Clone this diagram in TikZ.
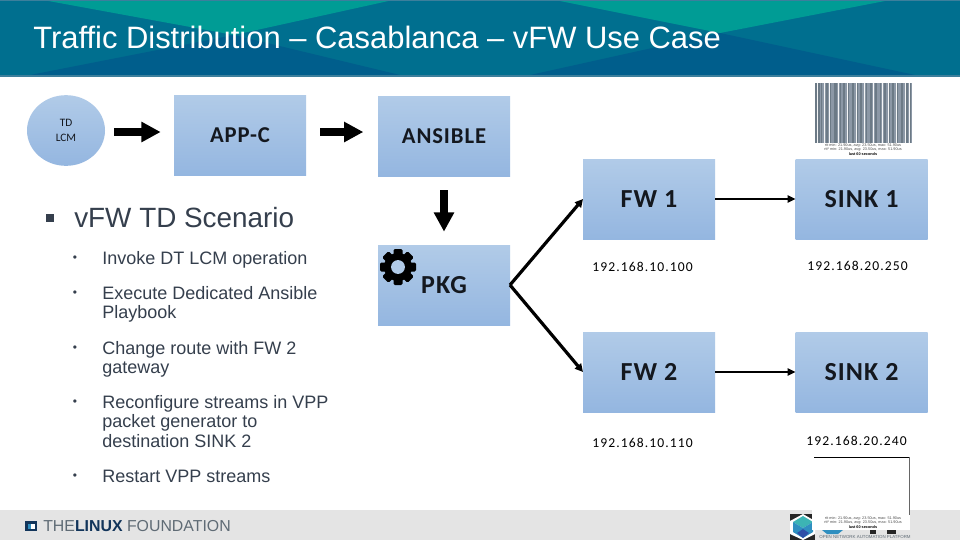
\documentclass[tikz,border=0pt]{standalone}
\usepackage{fontspec}
\setmainfont{Liberation Sans}
\newfontfamily\boxfont[LetterSpace=4]{Carlito}
\newfontfamily\ipfont[LetterSpace=8]{Carlito}
\newfontfamily\tdfont{Carlito}
\usetikzlibrary{arrows.meta,calc,shapes.geometric}
\definecolor{boxtop}{HTML}{B1CBE8}
\definecolor{boxbot}{HTML}{94B6E0}
\definecolor{ink}{HTML}{14181F}
\definecolor{slate}{HTML}{353F4D}
\definecolor{hdbase}{HTML}{006F8F}
\definecolor{hdteal}{HTML}{009C95}
\definecolor{hddark}{HTML}{005E8C}
\definecolor{hdedge}{HTML}{3C7F9C}
\definecolor{footgrey}{HTML}{E4E4E4}
\definecolor{lfnavy}{HTML}{12355B}
\definecolor{lfgrey}{HTML}{5F6B75}
\definecolor{barbase}{HTML}{8C98A6}
\definecolor{bardark}{HTML}{6C7A86}
\definecolor{onapa}{HTML}{3CB4B4}
\definecolor{onapb}{HTML}{2F8FC0}
\definecolor{onapc}{HTML}{2E4FA8}
\tikzset{
  x=0.75pt,y=-0.75pt,
  block/.style={rectangle,inner sep=0,outer sep=0,minimum width=99pt,minimum height=60pt,top color=boxtop,bottom color=boxbot,text=ink,font=\boxfont\fontsize{17}{20}\selectfont\bfseries},
  bigblock/.style={block,font=\boxfont\fontsize{19.5}{22}\selectfont\bfseries},
  ip/.style={font=\ipfont\fontsize{10.2}{12}\selectfont,text=black,inner sep=0},
  fat/.style={line width=5.4pt,-{Triangle[length=14.5pt,width=14.5pt]},black},
  mid/.style={line width=2.4pt,-{Triangle[length=6pt,width=6pt]},black},
  thinarrow/.style={line width=1.5pt,-{Triangle[length=6pt,width=5.5pt]},black},
  bul/.style={anchor=north west,inner sep=0,font=\fontsize{13.5}{14.6}\selectfont,text=slate,align=left},
  dot/.style={inner sep=0,font=\fontsize{9}{10}\selectfont,text=slate},
  small/.style={inner sep=0,font=\fontsize{2.85}{3}\selectfont,text=black!70}
}
\begin{document}
\begin{tikzpicture}
\useasboundingbox (0,0) rectangle (960,540);
\fill[white] (0,0) rectangle (960,540);
% header
\fill[hdbase] (0,0) rectangle (960,76);
\fill[hdteal] (43,0) -- (393,0) -- (234,35) -- cycle;
\fill[hdteal] (555,0) -- (890,0) -- (720,33) -- cycle;
\fill[hddark] (30,75) -- (234,35) -- (400,75) -- cycle;
\fill[hddark] (530,75) -- (720,33) -- (915,75) -- cycle;
\fill[hdedge] (0,75) rectangle (960,77);
\fill[hdedge] (0,0) rectangle (960,1);
\node[anchor=west,inner sep=0,text=white,font=\fontsize{23.2}{26}\selectfont] (title) at (33,37) {Traffic Distribution – Casablanca – vFW Use Case};
% footer
\fill[footgrey] (0,510) rectangle (960,540);
\fill[lfnavy] (25,521) rectangle (37,531);
\fill[white] (28,524) rectangle (35,529);
\fill[onapb] (28,524) rectangle (31,529);
\node[anchor=west,inner sep=0,font=\fontsize{11.9}{14}\selectfont,text=lfgrey] (lf) at (43,526) {THE\textcolor{lfnavy}{\textbf{LINUX}} FOUNDATION};
% ONAP logo
\fill[black!85] (790,514) rectangle (815,540);
\fill[white] (803,514) -- (815,521) -- (815,534) -- (803,540) -- (790,534) -- (790,521) -- cycle;
\fill[onapa] (803,516) -- (813,522) -- (803,528) -- (793,522) -- cycle;
\fill[onapb] (793,522) -- (803,528) -- (813,522) -- (813,532) -- (803,538) -- (793,532) -- cycle;
\fill[onapc] (797,533) -- (803,529) -- (809,533) -- (803,538) -- cycle;
\fill[onapb] (822,530) -- (843,530) -- (838,534) -- (827,534) -- cycle;
\fill[black!85] (870,530) rectangle (876,534);
\fill[black!85] (887,530) rectangle (896,534);
\node[inner sep=0,font=\fontsize{3.3}{4}\selectfont,text=lfgrey] (onap) at (865,537) {OPEN NETWORK AUTOMATION PLATFORM};
% lower white chart patch
\fill[white] (812,457) rectangle (910,530);
\coordinate (cornerA) at (814,457);
\coordinate (cornerB) at (909,457);
\coordinate (cornerC) at (909,515);
\draw[black,line width=0.7pt] (cornerA) -- (cornerB);
\draw[black!60,line width=0.7pt] (cornerB) -- (cornerC);
\node[small] (l1) at (863,518.5) {rtt min: 21.90us, avg: 23.50us, max: 51.90us};
\node[small] (l2) at (863,522.5) {rtt² min: 21.90us, avg: 23.50us, max: 51.90us};
\node[small,font=\fontsize{2.85}{3}\selectfont\bfseries,text=black] (l3) at (863,527) {last 60 seconds};
% barcode chart
\fill[barbase] (815,83) rectangle (912,143);
\foreach \p/\w in {815/1.5,818/2,821/1,826/2,830/1,834/2.5,840/1,843/1.5,848/1,852/2,857/1,860/2,866/1,870/1.5,875/2,880/1,884/2,889/1,892/2,897/1,901/1.5,906/2,910/1}{
  \fill[bardark] (\p,83) rectangle ({\p+\w},143);
}
\foreach \p in {817,824,829,838,847,855.5,864,873,882,888,896,904.5,909}{
  \fill[white!90!barbase] (\p,83) rectangle ({\p+0.8},143);
}
\node[small] (t1) at (863,145.5) {rtt min: 21.90us, avg: 23.50us, max: 51.90us};
\node[small] (t2) at (863,149.5) {rtt² min: 21.90us, avg: 23.50us, max: 51.90us};
\node[small,font=\fontsize{2.85}{3}\selectfont\bfseries,text=black] (t3) at (863,154) {last 60 seconds};
% nodes
\node[ellipse,inner sep=0,outer sep=0,minimum width=58.5pt,minimum height=53pt,top color=boxtop,bottom color=boxbot,text=ink,align=center,font=\tdfont\fontsize{8.5}{11.2}\selectfont] (td) at (66,130.5) {TD\\LCM};
\node[block] (app) at (240,135) {APP-C};
\node[block] (ans) at (444,136) {ANSIBLE};
\node[bigblock] (pkg) at (444,285) {PKG};
\node[bigblock] (fw1) at (649,199) {FW 1};
\node[bigblock] (sink1) at (861.5,199) {SINK 1};
\node[bigblock] (fw2) at (649,372) {FW 2};
\node[bigblock] (sink2) at (861.5,372) {SINK 2};
% gear
\foreach \a in {0,45,...,315}{
  \fill[black,rounded corners=1pt,rotate around={\a:(398,267)}] (393.5,249) rectangle (402.5,258);
}
\fill[black] (398,267) circle[radius=10.5pt];
\fill[boxtop] (398,267) circle[radius=5.2pt];
% connectors
\coordinate (r1) at (0,132);
\draw[fat,shorten <=7pt,shorten >=10pt] (td.east|-r1) -- (app.west|-r1);
\draw[fat,shorten <=10.5pt,shorten >=11pt] (app.east|-r1) -- (ans.west|-r1);
\draw[fat,shorten <=10.5pt,shorten >=10pt] (ans.south) -- (pkg.north);
\draw[mid] (pkg.east) -- (fw1.west);
\draw[mid] (pkg.east) -- (fw2.west);
\draw[thinarrow] (fw1.east) -- (sink1.west);
\draw[thinarrow] (fw2.east) -- (sink2.west);
% ip labels
\node[ip] (ip1) at (642.5,267) {192.168.10.100};
\node[ip] (ip2) at (857.5,266) {192.168.20.250};
\node[ip] (ip3) at (642.5,442.5) {192.168.10.110};
\node[ip] (ip4) at (856.5,441) {192.168.20.240};
% text
\fill[slate] (46,214) rectangle (54,222);
\node[anchor=west,inner sep=0,font=\fontsize{20.9}{24}\selectfont,text=slate] (head) at (74,218) {vFW TD Scenario};
\foreach \y in {258.5,293.5,348.5,403,477}{\node[dot] at (75,\y) {•};}
\node[bul] (b1) at (102,251.5) {Invoke DT LCM operation};
\node[bul] (b2) at (102,286) {Execute Dedicated Ansible\\Playbook};
\node[bul] (b3) at (102,341) {Change route with FW 2\\gateway};
\node[bul] (b4) at (102,395) {Reconfigure streams in VPP\\packet generator to\\destination SINK 2};
\node[bul] (b5) at (102,469.5) {Restart VPP streams};
\end{tikzpicture}
\end{document}
